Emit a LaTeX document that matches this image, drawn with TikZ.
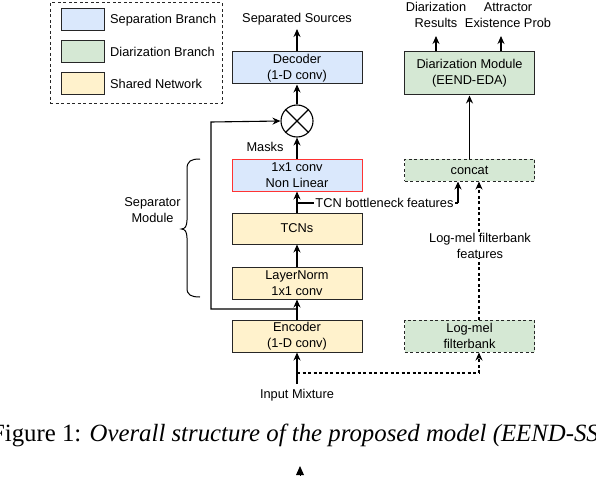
\documentclass[tikz,border=0pt]{standalone}
\usepackage{fontspec}
\setmainfont{Liberation Sans}
\newfontfamily\capfont{Liberation Serif}
\usetikzlibrary{arrows.meta}
\definecolor{sepblue}{HTML}{DAE8FC}
\definecolor{diagreen}{HTML}{D5E8D4}
\definecolor{shyellow}{HTML}{FFF2CC}
\definecolor{maskred}{HTML}{FF3333}
\tikzset{
  txt/.style={font=\fontsize{12.8}{16}\selectfont, align=center, inner sep=0pt},
  box/.style={txt, draw=black!85, line width=1pt, minimum width=130pt, minimum height=32pt},
  sepbox/.style={box, fill=sepblue},
  diabox/.style={box, fill=diagreen},
  shbox/.style={box, fill=shyellow},
  dashbox/.style={box, fill=diagreen, dash pattern=on 3pt off 2.5pt},
  swatch/.style={draw=black!85, line width=1pt, minimum width=43pt, minimum height=22pt, inner sep=0pt},
  arr/.style={line width=1.1pt, -{Stealth[length=8pt,width=7pt]}},
  darr/.style={arr, dash pattern=on 3pt off 2.5pt},
  ln/.style={line width=1.1pt},
  dln/.style={line width=1.1pt, dash pattern=on 3pt off 2.5pt},
  lbl/.style={txt, fill=white, inner sep=1pt}
}
\begin{document}
\begin{tikzpicture}[x=1pt,y=-1pt]
\useasboundingbox (0,0) rectangle (596,476);
\clip (0,0) rectangle (596,476);
% legend
\node[draw=black!85, line width=1pt, dash pattern=on 3pt off 2.5pt, minimum width=172pt, minimum height=101pt, inner sep=0pt] (leg) at (136,53.5) {};
\node[swatch, fill=sepblue] (s1) at (82.5,20) {};
\node[swatch, fill=diagreen] (s2) at (82.5,52) {};
\node[swatch, fill=shyellow] (s3) at (82.5,84) {};
\node[txt, anchor=west] (t1) at (110,20) {Separation Branch};
\node[txt, anchor=west] (t2) at (110,52) {Diarization Branch};
\node[txt, anchor=west] (t3) at (110,84) {Shared Network};
% main column
\node[txt] (src) at (297,19) {Separated Sources};
\node[sepbox] (dec) at (297,68) {Decoder\\(1-D conv)};
\node[draw=black, line width=1.1pt, circle, minimum size=32pt, inner sep=0pt] (mul) at (297,121) {};
\draw[line width=1.1pt] (mul.north west) -- (mul.south east) (mul.north east) -- (mul.south west);
\node[sepbox, draw=maskred] (nl) at (297,175) {1x1 conv\\Non Linear};
\node[shbox, minimum height=31pt] (tcn) at (297,228.5) {TCNs};
\node[shbox] (ln) at (297,283) {LayerNorm\\1x1 conv};
\node[shbox] (enc) at (297,336) {Encoder\\(1-D conv)};
\node[txt] (inp) at (297,395) {Input Mixture};
\node[txt] (masks) at (265,147) {Masks};
\node[txt] (sepmod) at (152.5,210.5) {Separator\\Module};
% right column
\node[diabox, minimum height=43pt] (dia) at (469.5,73.5) {Diarization Module\\(EEND-EDA)};
\node[dashbox, minimum height=22pt] (cat) at (469.5,170) {concat};
\node[dashbox] (lm) at (469.5,336) {Log-mel\\filterbank};
\node[txt] (dres) at (436,15) {Diarization\\Results};
\node[txt] (attr) at (508,15) {Attractor\\Existence Prob};
% coordinates
\coordinate (fb) at (297,309);
\coordinate (fbl) at (211,309);
\coordinate (fbt) at (211,122);
\coordinate (bt) at (297,203);
\coordinate (btr) at (458,203);
\coordinate (inb) at (297,384);
\coordinate (spl) at (297,373);
\coordinate (splr) at (479,373);
% connectors
\draw[arr] (dec.north) -- (src.south |- 0,29);
\draw[arr] (mul.north) -- (dec.south);
\draw[arr] (nl.north) -- (mul.south);
\draw[arr] (tcn.north) -- (nl.south);
\draw[arr] (ln.north) -- (tcn.south);
\draw[arr] (enc.north) -- (ln.south);
\draw[arr] (inb) -- (enc.south);
\draw[arr] (fb) -- (fbl) -- (fbt) -- (mul.west);
\draw[ln] (bt) -- (btr);
\draw[arr] (btr) -- (btr |- cat.south);
\node[lbl] (tbl) at (384.5,203) {TCN bottleneck features};
\draw[dln] (spl) -- (splr);
\draw[darr] (splr) -- (splr |- lm.south);
\draw[darr] (lm.north -| splr) -- (cat.south -| splr);
\node[lbl, inner sep=0pt] (lmf) at (480,245.5) {Log-mel filterbank\\features};
\draw[arr] (cat.north) -- (dia.south);
\draw[arr] (dia.north -| dres) -- (436,36);
\draw[arr] (dia.north -| 501,0) -- (501,36);
% brace
\draw[line width=1pt] (200,159) .. controls (191,159) and (187,161) .. (187,169) -- (187,220) .. controls (187,226) and (185,229) .. (181.5,229) .. controls (185,229) and (187,232) .. (187,238) -- (187,288) .. controls (187,295) and (191,297) .. (200,297);
% caption
\node[font=\capfont\fontsize{24.8}{28}\selectfont, anchor=base, inner sep=0pt] (cap) at (295,441) {Figure 1: \textit{Overall structure of the proposed model (EEND-SS}};
\fill (300,466) -- (304,475) -- (296,475) -- cycle;
\draw[line width=0.8pt] (300,473) -- (300,476);
\end{tikzpicture}
\end{document}
